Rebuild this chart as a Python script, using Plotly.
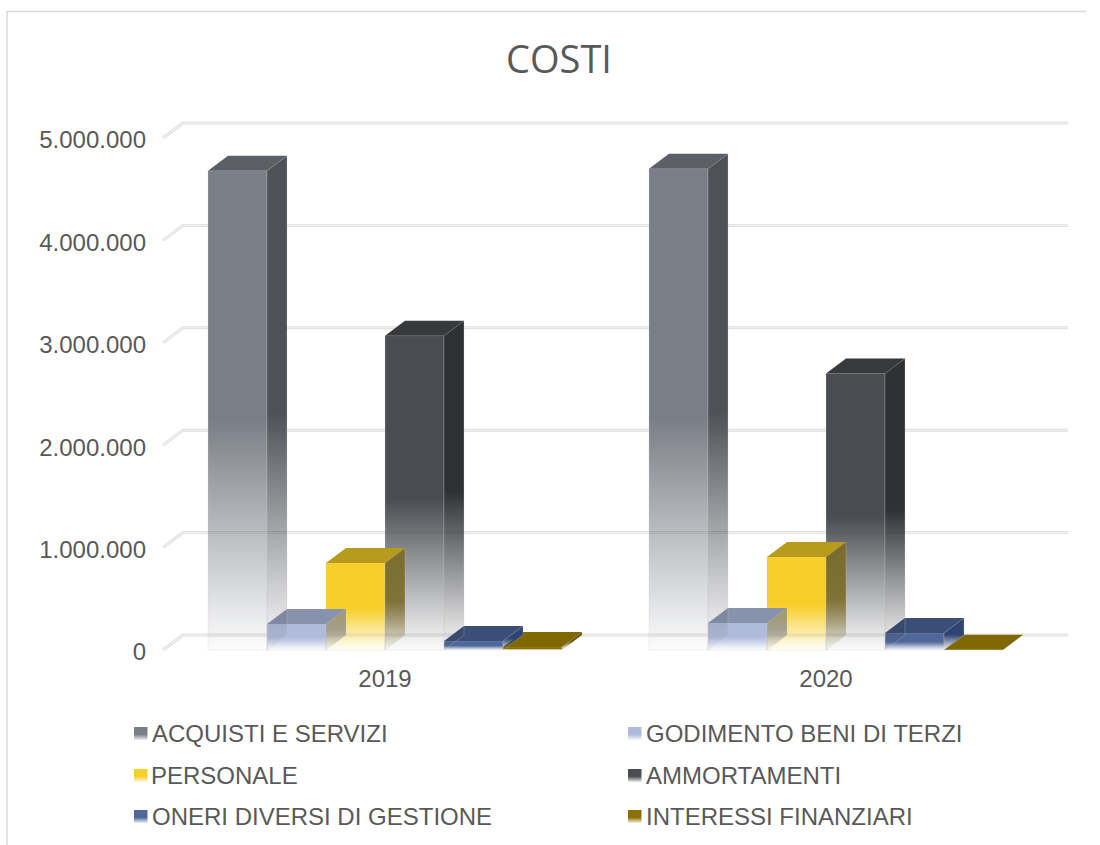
import plotly.graph_objects as go

W, H = 1100, 845
TITLE = "COSTI"
CATEGORIES = ["2019", "2020"]
SERIES = ["ACQUISTI E SERVIZI", "GODIMENTO BENI DI TERZI", "PERSONALE",
          "AMMORTAMENTI", "ONERI DIVERSI DI GESTIONE", "INTERESSI FINANZIARI"]
ACQUISTI = [4680000, 4700000]
GODIMENTO = [254000, 264000]
PERSONALE = [850000, 908000]
AMMORTAMENTI = [3070000, 2700000]
ONERI = [88000, 166000]
INTERESSI = [30000, 3000]
VALUES = [ACQUISTI, GODIMENTO, PERSONALE, AMMORTAMENTI, ONERI, INTERESSI]
Y_TICKS = [0, 1000000, 2000000, 3000000, 4000000, 5000000]

# (front, side, top) RGB
COLORS = [
    ((122, 126, 134), (78, 81, 88), (92, 95, 102)),
    ((174, 187, 219), (110, 116, 135), (135, 146, 172)),
    ((247, 206, 42), (122, 106, 38), (184, 154, 28)),
    ((74, 77, 82), (47, 49, 53), (55, 57, 61)),
    ((79, 103, 153), (47, 68, 112), (59, 78, 120)),
    ((138, 112, 0), (102, 84, 10), (128, 104, 0)),
]
SIDE_ALPHA = [1, 0.62, 0.9, 1, 1, 1]
EDGE = "rgba(205,205,205,0.35)"
TEXT = "#595959"
FONT = "Liberation Sans"

# axis geometry (pixels)
PX_CAT = 441.0
PX_X0 = 385.0
PX_Y0 = 650.0
PX_5M = 512.0
AX_L, AX_R, AX_T, AX_B = 160.0, 1074.0, 110.0, 662.0
KY = 5e6 / PX_5M
DX = 20.0 / PX_CAT
DY = 15.0 * KY
BW = 59.0 / PX_CAT
GRID_L = (163.0 - PX_X0) / PX_CAT
GRID_R = (1068.0 - PX_X0) / PX_CAT


def fade(rgb, solid=0.48, alpha=1):
    r, g, b = rgb
    return dict(type="vertical", colorscale=[
        [0, f"rgba({r},{g},{b},0.02)"],
        [solid, f"rgba({r},{g},{b},{alpha})"],
        [1, f"rgba({r},{g},{b},{alpha})"]])


fig = go.Figure()

# gridlines with their little wall returns
for t in Y_TICKS:
    xs = [GRID_L, GRID_L + DX, GRID_R]
    ys = [t, t + DY, t + DY]
    fig.add_trace(go.Scatter(x=xs, y=ys, mode="lines", showlegend=False, hoverinfo="skip",
                             line=dict(color="#dedede", width=3)))
    fig.add_trace(go.Scatter(x=xs, y=ys, mode="lines", showlegend=False, hoverinfo="skip",
                             line=dict(color="#f4f4f4", width=1.1)))

# bars, last series first so that each side falls over the next bar's front
for s in range(len(SERIES) - 1, -1, -1):
    front, side, top = COLORS[s]
    for c in range(len(CATEGORIES)):
        v = VALUES[s][c]
        x0 = c + (s - 3) * BW
        x1 = x0 + BW
        fig.add_trace(go.Scatter(
            x=[x0, x1, x1, x0, x0], y=[0, 0, v, v, 0], name=SERIES[s], mode="lines",
            fill="toself", line=dict(width=0.8, color=EDGE), showlegend=False, hoverinfo="skip",
            fillgradient=dict(fade(front), start=0, stop=v)))
        fig.add_trace(go.Scatter(
            x=[x1, x1 + DX, x1 + DX, x1, x1], y=[0, DY, v + DY, v, 0], name=SERIES[s], mode="lines",
            fill="toself", line=dict(width=0.8, color=EDGE), showlegend=False, hoverinfo="skip",
            fillgradient=dict(fade(side, alpha=SIDE_ALPHA[s]), start=0, stop=v + DY)))
        fig.add_trace(go.Scatter(
            x=[x0, x1, x1 + DX, x0 + DX, x0], y=[v, v, v + DY, v + DY, v], name=SERIES[s], mode="lines",
            fill="toself", line=dict(width=0), showlegend=False, hoverinfo="skip",
            fillcolor="rgb(%d,%d,%d)" % top))

# legend keys on a page-sized overlay axis
KEY_X = [134, 628]
KEY_Y = [727, 769, 810]
KEY_S = 13.5
annotations = []
for s, name in enumerate(SERIES):
    kx = KEY_X[s % 2]
    ky = KEY_Y[s // 2]
    fig.add_trace(go.Scatter(
        x=[kx, kx + KEY_S, kx + KEY_S, kx, kx], y=[ky, ky, ky + KEY_S, ky + KEY_S, ky],
        xaxis="x2", yaxis="y2", name=name, mode="lines", fill="toself", line=dict(width=0),
        showlegend=False, hoverinfo="skip",
        fillgradient=dict(fade(COLORS[s][0], 0.45), start=ky + KEY_S, stop=ky)))
    annotations.append(dict(text=name, x=(kx + 15.5) / W, y=1 - (ky + 6.5) / H,
                            xref="paper", yref="paper", xanchor="left", yanchor="middle",
                            showarrow=False, font=dict(family=FONT, size=24, color=TEXT)))

fig.update_layout(
    width=W, height=H, autosize=False,
    margin=dict(l=0, r=0, t=0, b=0, pad=0, autoexpand=False),
    paper_bgcolor="white", plot_bgcolor="rgba(0,0,0,0)",
    showlegend=False, hovermode=False, separators=",.",
    title=dict(text=TITLE, x=559 / W, y=1 - 60 / H, xanchor="center", yanchor="middle",
               font=dict(family="Open Sans", size=38, color=TEXT)),
    annotations=annotations,
    xaxis=dict(domain=[AX_L / W, AX_R / W], automargin=False,
               range=[(AX_L - PX_X0) / PX_CAT, (AX_R - PX_X0) / PX_CAT],
               tickmode="array", tickvals=[0, 1], ticktext=CATEGORIES,
               showgrid=False, zeroline=False, showline=False, ticks="",
               ticklabelstandoff=0, tickfont=dict(family=FONT, size=24, color=TEXT)),
    yaxis=dict(domain=[1 - AX_B / H, 1 - AX_T / H], automargin=False,
               range=[(PX_Y0 - AX_B) * KY, (PX_Y0 - AX_T) * KY],
               tickmode="array", tickvals=Y_TICKS, tickformat=",d",
               showgrid=False, zeroline=False, showline=False, ticks="",
               ticklabelstandoff=13, ticklabelshift=2,
               tickfont=dict(family=FONT, size=24, color=TEXT)),
    xaxis2=dict(domain=[0, 1], range=[0, W], visible=False, anchor="y2", automargin=False),
    yaxis2=dict(domain=[0, 1], range=[H, 0], visible=False, anchor="x2", automargin=False),
    shapes=[
        dict(type="line", xref="paper", yref="paper", x0=7 / W, x1=7 / W, y0=1 - 11 / H, y1=0,
             line=dict(color="#d9d9d9", width=1.5)),
        dict(type="line", xref="paper", yref="paper", x0=7 / W, x1=1086 / W, y0=1 - 11.5 / H, y1=1 - 11.5 / H,
             line=dict(color="#d9d9d9", width=1.5)),
    ],
)

fig.write_html("out.html", post_script="document.body.style.margin='0';",
               config=dict(displayModeBar=False))
